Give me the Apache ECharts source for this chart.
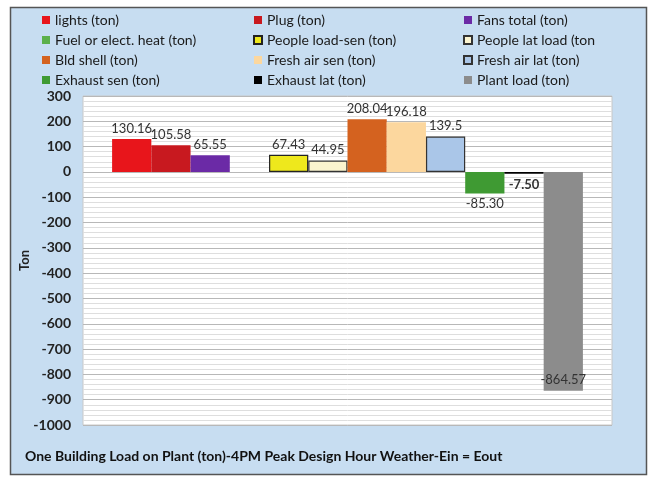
<!DOCTYPE html>
<html>
<head>
<meta charset="utf-8">
<script src="https://cdn.jsdelivr.net/npm/echarts@6/dist/echarts.min.js"></script>
<style>html,body{margin:0;padding:0;background:#fff;}#c{width:652px;height:478px;}</style>
</head>
<body>
<div id="c"></div>
<script>
const seriesNames = ["lights (ton)", "Plug (ton)", "Fans total (ton)", "Fuel or elect. heat (ton)", "People load-sen (ton)", "People lat load (ton", "Bld shell (ton)", "Fresh air sen (ton)", "Fresh air lat (ton)", "Exhaust sen (ton)", "Exhaust lat (ton)", "Plant load (ton)"];
const seriesValues = [130.16, 105.58, 65.55, 0, 67.43, 44.95, 208.04, 196.18, 139.5, -85.30, -7.50, -864.57];
const labelTexts = ["130.16", "105.58", "65.55", "", "67.43", "44.95", "208.04", "196.18", "139.5", "-85.30", "-7.50", "-864.57"];
const colors = ["#e8151b", "#c8191f", "#6b2aa6", "#5cb04a", "#eee81c", "#fbf4cf", "#d4621f", "#fcd79e", "#aac6e8", "#3f9a33", "#000000", "#8c8c8c"];
const borders = [null, null, null, null, "#222", "#333", null, null, "#333", null, null, null];
const yTicks = [-1000, 300, 100];

const FONT = "Lato";
const chart = echarts.init(document.getElementById('c'));

const series = seriesNames.map((n, i) => {
  const v = seriesValues[i];
  let pos = v >= 0 ? 'top' : 'bottom';
  if (i === 11) pos = 'insideBottom';
  return {
    name: n, type: 'bar', data: [v],
    barGap: '0%', barCategoryGap: '11%',
    itemStyle: { color: colors[i], borderColor: borders[i] || colors[i], borderWidth: borders[i] ? 1.2 : 0 },
    label: {
      show: labelTexts[i] !== '', position: pos, distance: 4,
      formatter: () => labelTexts[i],
      fontFamily: FONT, fontSize: 13, color: '#333',
      fontWeight: i === 10 ? 'bold' : 'normal'
    }
  };
});

const legendCol = (names, left) => ({
  data: names, orient: 'vertical', left: left, top: 13, padding: 0,
  itemWidth: 8, itemHeight: 8, itemGap: 6, icon: 'rect',
  textStyle: { fontFamily: FONT, fontSize: 14, color: '#1a1a1a', lineHeight: 14 }
});

chart.setOption({
  animation: false,
  backgroundColor: '#fff',
  graphic: [{
    type: 'rect', z: -10, silent: true,
    shape: { x: 10.5, y: 7.5, width: 636, height: 467 },
    style: { fill: '#c7ddf1', stroke: '#555', lineWidth: 1.5 }
  }, {
    type: 'text', left: 25, top: 449, z: 10,
    style: { text: 'One Building Load on Plant (ton)-4PM Peak Design Hour Weather-Ein = Eout', font: 'bold 14px Lato', fill: '#111' }
  }],
  legend: [
    legendCol([seriesNames[0], seriesNames[3], seriesNames[6], seriesNames[9]], 42),
    legendCol([seriesNames[1], seriesNames[4], seriesNames[7], seriesNames[10]], 253),
    legendCol([seriesNames[2], seriesNames[5], seriesNames[8], seriesNames[11]], 463)
  ],
  grid: { left: 83, right: 40, top: 96, bottom: 53, show: true, backgroundColor: '#fff', borderColor: '#c8c8c8', borderWidth: 1 },
  xAxis: { type: 'category', data: [''], axisLine: { show: false }, axisTick: { show: false }, axisLabel: { show: false } },
  yAxis: {
    type: 'value', min: yTicks[0], max: yTicks[1], interval: yTicks[2],
    name: 'Ton', nameLocation: 'middle', nameGap: 52, nameRotate: 90, nameMoveOverlap: false,
    nameTextStyle: { fontFamily: FONT, fontSize: 13, fontWeight: 'bold', color: '#222' },
    axisLine: { show: false }, axisTick: { show: false },
    axisLabel: { fontFamily: FONT, fontSize: 14, fontWeight: 'bold', color: '#222', margin: 12, formatter: v => String(v) },
    splitLine: { lineStyle: { color: '#b8b8b8', width: 1 } },
    minorTick: { show: false, splitNumber: 5 },
    minorSplitLine: { show: true, lineStyle: { color: '#dedede', width: 1 } }
  },
  series: series
});
</script>
</body>
</html>
